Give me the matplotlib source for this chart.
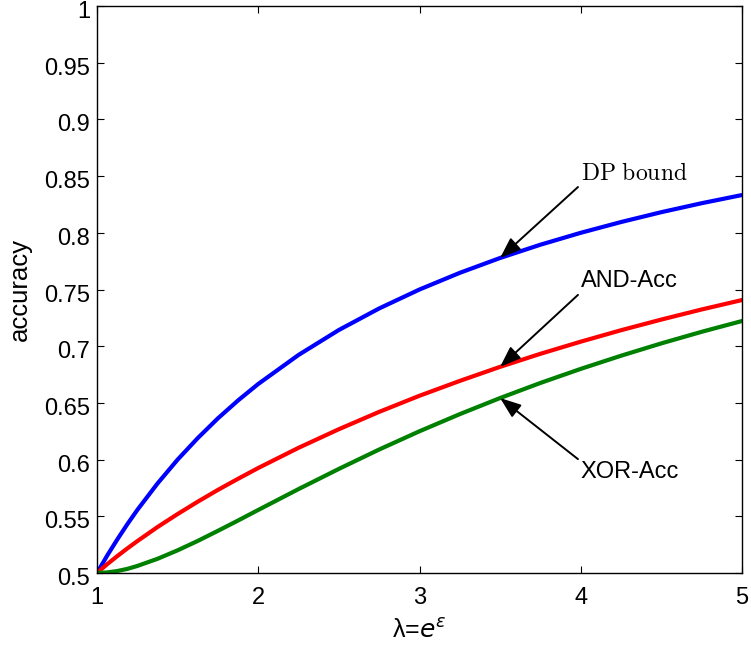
import matplotlib
matplotlib.use("Agg")
import matplotlib.pyplot as plt
import matplotlib.transforms as mtransforms

plt.rcParams['font.family'] = ['Liberation Sans', 'DejaVu Sans']

lam = [1.0, 1.0625, 1.125, 1.1875, 1.25, 1.375, 1.5, 1.625, 1.75, 1.875, 2.0,
       2.25, 2.5, 2.75, 3.0, 3.25, 3.5, 3.75, 4.0, 4.25, 4.5, 4.75, 5.0]
dp_bound = [0.5, 0.5152, 0.5294, 0.5429, 0.5556, 0.5789, 0.6, 0.6190, 0.6364,
            0.6522, 0.6667, 0.6923, 0.7143, 0.7333, 0.75, 0.7647, 0.7778,
            0.7895, 0.8, 0.8095, 0.8182, 0.8261, 0.8333]
and_acc = [0.5, 0.5077, 0.5148, 0.5216, 0.5281, 0.5405, 0.552, 0.5629, 0.5733,
           0.5831, 0.5926, 0.6104, 0.6268, 0.6421, 0.6563, 0.6694, 0.6818,
           0.6933, 0.704, 0.7141, 0.7235, 0.7324, 0.7407]
xor_acc = [0.5, 0.5005, 0.5017, 0.5036, 0.5062, 0.5125, 0.52, 0.5283, 0.5372,
           0.5463, 0.5556, 0.5740, 0.5918, 0.6089, 0.625, 0.6401, 0.6543,
           0.6676, 0.68, 0.6916, 0.7025, 0.7127, 0.7222]

xticks = [1, 2, 3, 4, 5]
yticks = [0.5, 0.55, 0.6, 0.65, 0.7, 0.75, 0.8, 0.85, 0.9, 0.95, 1.0]
ytick_labels = ['0.5', '0.55', '0.6', '0.65', '0.7', '0.75', '0.8', '0.85',
                '0.9', '0.95', '1']

fig = plt.figure(figsize=(7.51, 6.52), dpi=100)
ax = fig.add_axes([97/751, 1 - 573/652, (742 - 97)/751, (573 - 6)/652])

ax.plot(lam, dp_bound, color='#0000ff', lw=3)
ax.plot(lam, and_acc, color='#ff0000', lw=3)
ax.plot(lam, xor_acc, color='#008000', lw=3)

ax.set_xlim(1, 5)
ax.set_ylim(0.5, 1)
ax.set_xticks(xticks)
ax.set_xticklabels([str(t) for t in xticks])
ax.set_yticks(yticks)
ax.set_yticklabels(ytick_labels)
ax.tick_params(direction='in', length=5, width=0.8, labelsize=17,
               top=True, right=True, colors='black')
ax.tick_params(axis='y', pad=5)
ax.tick_params(axis='x', pad=10)
for s in ax.spines.values():
    s.set_linewidth(1.0)

offset = mtransforms.ScaledTranslation(0, -3.5 / 100, fig.dpi_scale_trans)
for lbl in ax.get_yticklabels():
    lbl.set_transform(lbl.get_transform() + offset)

ax.set_ylabel('accuracy', fontsize=18.5, labelpad=9)
ax.set_xlabel(r'λ=$e^{\varepsilon}$', fontsize=18, math_fontfamily='dejavusans',
              labelpad=7)

def arrow(rel):
    return dict(arrowstyle='-|>,head_length=0.75,head_width=0.28', color='black',
                lw=1.4, shrinkA=0, shrinkB=0, relpos=rel)

ax.annotate(r'$\mathrm{DP\ bound}$', xy=(3.5, 0.7778), xytext=(4.0, 0.8470),
            fontsize=17, math_fontfamily='cm', ha='left', va='baseline',
            arrowprops=arrow((0, 0)))
ax.annotate('AND-Acc', xy=(3.5, 0.6818), xytext=(4.0, 0.7475),
            fontsize=17, ha='left', va='bottom', arrowprops=arrow((0, 0)))
ax.annotate('XOR-Acc', xy=(3.5, 0.6543), xytext=(4.0, 0.5985),
            fontsize=17, ha='left', va='top', arrowprops=arrow((0, 1)))

fig.savefig('out.png', dpi=100)
